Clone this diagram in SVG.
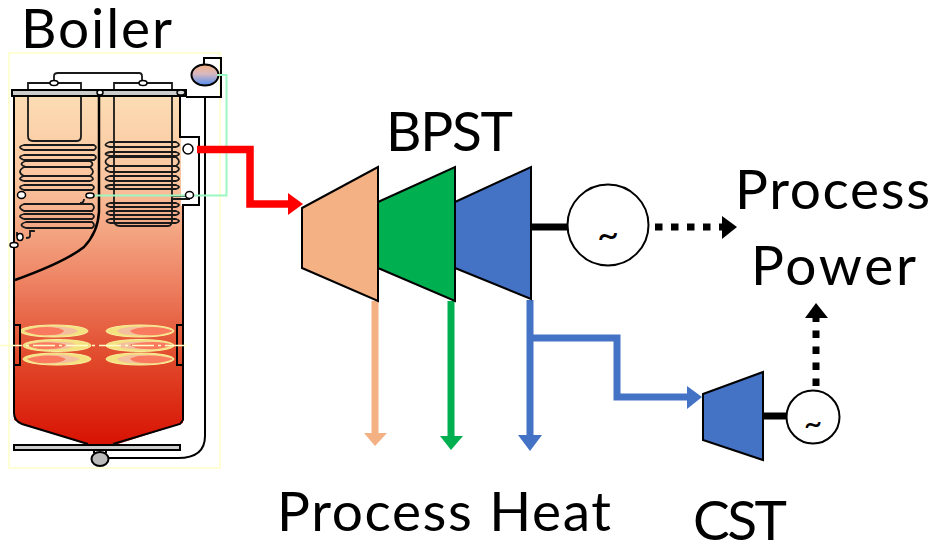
<svg xmlns="http://www.w3.org/2000/svg" width="935" height="544" viewBox="0 0 935 544">
<defs>
<linearGradient id="fur" x1="0" y1="0" x2="0" y2="1">
<stop offset="0" stop-color="#fcdcb4"/><stop offset="0.25" stop-color="#f9c39d"/><stop offset="0.5" stop-color="#ef8a6a"/><stop offset="0.75" stop-color="#e14a2c"/><stop offset="1" stop-color="#d81202"/>
</linearGradient>
<linearGradient id="drum" x1="0" y1="0" x2="0" y2="1">
<stop offset="0" stop-color="#f4b183"/><stop offset="0.45" stop-color="#d8b8c0"/><stop offset="1" stop-color="#4f8cf0"/>
</linearGradient>
</defs>
<style>
text{font-family:Lato,"Open Sans","Liberation Sans",sans-serif;fill:#000}
.lbl{font-size:55px}
.t{stroke:#000;stroke-width:2}
.gen{fill:#fff;stroke:#000;stroke-width:2}
.sh{stroke:#000;stroke-width:7;fill:none}
.d{stroke:#000;stroke-width:7;fill:none;stroke-dasharray:7.5 8.5}
.c{fill:none;stroke:#1a1a1a;stroke-width:1.8}
.k{fill:none;stroke:#000;stroke-width:2}
.f{fill:#f3e27f;stroke:#fbeea0;stroke-width:1}
.f2{fill:#f4bf9e}
.f3{fill:#fa7a60}
.o{fill:#fff;stroke:#000;stroke-width:1.5}
</style>
<g id="boiler">
<rect x="9" y="53" width="211" height="415" fill="#fff" stroke="#ffffc8" stroke-width="1.5"/>
<path d="M14 97H180V137H181V206H183V423L115 445H88L20 423L14 420Z" fill="url(#fur)"/>
<g class="c">
<path d="M28 97V136Q28 141 33 141H77Q81 141 81 136V83H28V97"/>
<path d="M114 97V220Q114 226 120 226H168Q172 226 172 220V83H114V97"/>
<path d="M54 83V76Q54 73 58 73H139Q142 73 142 76V83"/>
<path d="M24 145H94Q98 147 94 150H24Q16 147 24 145ZM24 155H94Q98 157 94 160H24Q16 157 24 155ZM26 161H90Q95 164 90 167H26Q17 164 26 161ZM24 167H90Q96 172 90 176H24Q16 172 24 167ZM24 176H90Q96 179 90 181H24Q16 179 24 176ZM24 185H92Q96 187 92 190H24Q16 187 24 185Z"/>
<path d="M24 204H92Q96 207 92 211H24Q16 207 24 204ZM24 214H92Q96 216 92 219H24Q16 216 24 214ZM26 222H92Q96 225 92 228H26Q17 225 26 222Z"/>
<path d="M110 142H176Q182 145 176 147H110Q101 145 110 142ZM110 152H176Q182 154 176 156H110Q101 154 110 152ZM110 157H176Q182 162 176 166H110Q101 162 110 157ZM110 166H176Q182 169 176 172H110Q101 169 110 166ZM110 176H176Q182 179 176 181H110Q101 179 110 176ZM110 185H176Q182 187 176 189H110Q101 187 110 185Z"/>
<path d="M110 203H176Q182 205 176 207H110Q103 205 110 203ZM110 211H176Q182 213 176 215H110Q103 213 110 211ZM110 219H176Q182 221 176 223H110Q103 221 110 219Z"/>
<path d="M34 232V231H30V236Q30 238 26 238M17 236V232"/>
<path d="M80 203Q84 203 84 199"/>
<path d="M172 203V199H190M172 196H188"/>
</g>
<path d="M99 97V212Q98 232 84 247Q65 262 15 280" fill="none" stroke="#000" stroke-width="2.500"/>
<path d="M14 96V413Q14 421 22 424L88 444M183 206V420L180 424L113 444" class="k"/>
<path d="M180 97V137H199V205H182" class="k"/>
<path d="M205 98V436Q205 458 178 458H108" class="k"/>
<path d="M204 65V58H221V98M186 97H222" class="k" stroke-width="1.6"/>
<rect x="12" y="90" width="174" height="6" fill="#ccc" stroke="#000" stroke-width="2"/>
<ellipse cx="100" cy="92.500" rx="3" ry="2.500" class="o"/>
<ellipse cx="181" cy="92.500" rx="4" ry="2.500" fill="#ddd" stroke="#000" stroke-width="1.500"/>
<ellipse cx="54" cy="83" rx="4" ry="2.500" class="o"/>
<ellipse cx="143" cy="83" rx="4" ry="2.500" class="o"/>
<ellipse cx="205" cy="75" rx="13.500" ry="10.500" fill="url(#drum)" stroke="#000" stroke-width="2"/>
<path d="M217 75H226.500V195.500H90" fill="none" stroke="#9cf7c0" stroke-width="2"/>
<circle cx="188" cy="149" r="5" class="o"/>
<ellipse cx="189.500" cy="195" rx="4" ry="3.500" class="o"/>
<ellipse cx="21.500" cy="195" rx="4" ry="3.500" class="o"/>
<ellipse cx="90" cy="195.500" rx="4" ry="2.500" class="o"/>
<ellipse cx="20" cy="237" rx="3" ry="3.500" class="o"/>
<ellipse cx="14" cy="245" rx="4" ry="2.500" class="o"/>
<g>
<ellipse cx="54" cy="331" rx="34" ry="6" class="f"/><path d="M24 331Q40 325 64 327Q76 328 78 331Q74 335 60 335Q40 337 24 331Z" class="f2"/><path d="M24 331Q40 325 58 328Q64 330 64 331Q62 335 50 335Q34 336 24 331Z" class="f3"/>
<ellipse cx="57" cy="345.500" rx="34" ry="6" class="f"/><path d="M27 345Q40 340 65 342Q75 343 76 345Q70 349 60 349Q40 351 27 345Z" class="f2"/><path d="M27 345Q40 341 58 343Q64 344 66 345Q62 349 50 349Q34 350 27 345Z" class="f3"/>
<ellipse cx="57" cy="359" rx="34" ry="6" class="f"/><path d="M27 359Q40 354 65 355Q78 357 80 359Q74 363 60 363Q40 365 27 359Z" class="f2"/><path d="M27 359Q40 354 58 356Q64 358 66 359Q62 363 50 363Q34 364 27 359Z" class="f3"/>
<ellipse cx="140" cy="331" rx="34" ry="6" class="f"/><path d="M173 331Q160 325 130 327Q118 328 117 331Q120 335 134 335Q156 337 173 331Z" class="f2"/><path d="M173 331Q160 325 138 328Q130 330 130 331Q134 335 146 335Q162 336 173 331Z" class="f3"/>
<ellipse cx="140" cy="345.500" rx="34" ry="6" class="f"/><path d="M173 345Q160 340 130 342Q118 343 117 345Q120 349 134 349Q156 351 173 345Z" class="f2"/><path d="M173 345Q160 340 138 343Q130 344 130 345Q134 349 146 349Q162 350 173 345Z" class="f3"/>
<ellipse cx="140" cy="359" rx="34" ry="6" class="f"/><path d="M173 359Q160 354 130 355Q118 357 117 359Q120 363 134 363Q156 365 173 359Z" class="f2"/><path d="M173 359Q160 354 138 356Q130 358 130 359Q134 363 146 363Q162 364 173 359Z" class="f3"/>
</g>
<path d="M15 325H20V365H15M182 325H177V365H182" class="k"/>
<path d="M0 345.500H192" stroke="#ffffc8" stroke-width="1.500" stroke-dasharray="22 4 3 4" fill="none"/>
<rect x="14" y="445" width="166" height="5" fill="#ccc" stroke="#000" stroke-width="2"/>
<path d="M94 451V453M106 451V453" class="k"/>
<ellipse cx="100" cy="459" rx="8.500" ry="7" fill="#bbb" stroke="#000" stroke-width="2"/>
<text class="lbl" x="21" y="48" textLength="151">Boiler</text>
</g>
<g id="connectors">
<path d="M197 149.500H250V204H290" fill="none" stroke="#f00" stroke-width="7.500"/><path d="M288 193L303 204L288 215Z" fill="#f00"/>
<path d="M375 301V436" fill="none" stroke="#f4b183" stroke-width="7"/><path d="M364 433H387L375 446Z" fill="#f4b183"/>
<path d="M451 301V438" fill="none" stroke="#00b050" stroke-width="7"/><path d="M440 436H463L451 450Z" fill="#00b050"/>
<path d="M530 300V438" fill="none" stroke="#4472c4" stroke-width="7"/><path d="M518 435H542L530 451Z" fill="#4472c4"/>
<path d="M530 338H617V397H690" fill="none" stroke="#4472c4" stroke-width="7"/><path d="M687 386L702 397L687 409Z" fill="#4472c4"/>
<path class="sh" d="M531 227H568"/>
<path class="sh" d="M763 416H786"/>
<path class="d" d="M655 227H724"/><path d="M722 216L737 227L722 239Z"/>
<path class="d" d="M816 386V318"/><path d="M805 318L816 303L828 318Z"/>
</g>
<g id="hp-turbine"><path class="t" d="M302 208L378 167V301L302 268Z" fill="#f4b183"/></g>
<g id="ip-turbine"><path class="t" d="M378 202L455 167V301L378 268Z" fill="#00b050"/></g>
<g id="lp-turbine"><path class="t" d="M455 202L531 167V299L455 268Z" fill="#4472c4"/></g>
<g id="generator-1"><circle class="gen" cx="608" cy="225" r="40.500"/><text x="608" y="248" font-size="38" text-anchor="middle">~</text></g>
<g id="cst"><path class="t" d="M703 394L763 372V460L703 440Z" fill="#4472c4"/></g>
<g id="generator-2"><circle class="gen" cx="813" cy="417" r="26.500"/><text x="813" y="435" font-size="32" text-anchor="middle">~</text></g>
<g id="labels">
<text class="lbl" x="386" y="151" textLength="127">BPST</text>
<text class="lbl" x="735" y="209" textLength="195">Process</text>
<text class="lbl" x="751" y="285" textLength="165">Power</text>
<text class="lbl" x="277" y="531" textLength="334">Process Heat</text>
<text class="lbl" x="693" y="540" textLength="94">CST</text>
</g>
</svg>
